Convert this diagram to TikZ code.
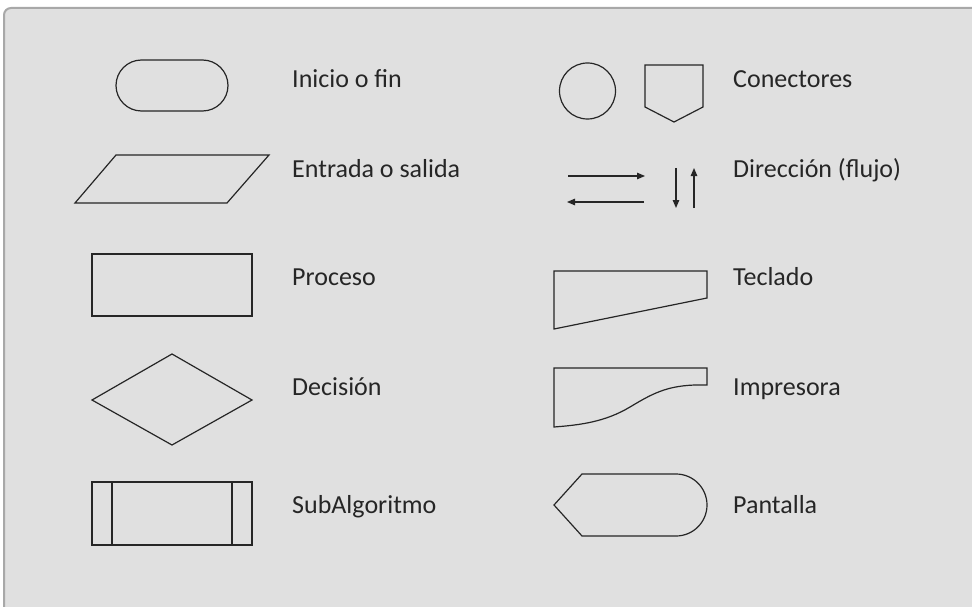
\documentclass[tikz,border=0pt]{standalone}
\usepackage{fontspec}
\setmainfont{Carlito}
\usetikzlibrary{arrows.meta}
\definecolor{panelgray}{HTML}{E0E0E0}
\definecolor{bordergray}{HTML}{A8A8A8}
\definecolor{ink}{HTML}{262626}
\begin{document}
\begin{tikzpicture}[x=1pt,y=-1pt,
  shapeline/.style={draw=ink,line width=1.2pt,line join=miter},
  label/.style={anchor=base west,inner sep=0pt,text=ink,font=\fontsize{26}{30}\selectfont},
  flowarrow/.style={draw=ink,line width=1.2pt,-{Triangle[length=8pt,width=6.5pt]}}]
\clip (0,0) rectangle (972,607);
\fill[white] (0,0) rectangle (972,607);
\draw[fill=panelgray,draw=bordergray,line width=2pt,rounded corners=7pt] (4,8) rectangle (990,625);
% left column shapes
\draw[shapeline,rounded corners=25.5pt] (116,60) rectangle (228,111);
\draw[shapeline] (116,155) -- (269,155) -- (227,203) -- (75,203) -- cycle;
\draw[shapeline] (92,254) rectangle (252,316);
\draw[shapeline] (92,400) -- (172,354) -- (252,400) -- (172,445) -- cycle;
\draw[shapeline] (92,482) rectangle (252,545);
\draw[shapeline] (112,482) -- (112,545);
\draw[shapeline] (232,482) -- (232,545);
% right column shapes
\draw[shapeline] (587.5,91) circle[radius=28pt];
\draw[shapeline] (645,65) -- (703,65) -- (703,107) -- (674,122) -- (645,107) -- cycle;
\coordinate (r1s) at (568,176); \coordinate (r1e) at (645,176);
\coordinate (l1s) at (644,202); \coordinate (l1e) at (567,202);
\coordinate (d1s) at (676,168); \coordinate (d1e) at (676,208);
\coordinate (u1s) at (694,208); \coordinate (u1e) at (694,168);
\draw[flowarrow] (r1s) -- (r1e);
\draw[flowarrow] (l1s) -- (l1e);
\draw[flowarrow] (d1s) -- (d1e);
\draw[flowarrow] (u1s) -- (u1e);
\draw[shapeline] (554,271) -- (707,271) -- (707,298) -- (554,329) -- cycle;
\draw[shapeline] (554,368) -- (707,368) -- (707,385)
  .. controls (670,384) and (655,392) .. (630,407)
  .. controls (605,422) and (580,425) .. (554,427) -- cycle;
\draw[shapeline] (582,474) -- (676,474)
  .. controls (693.1,474) and (707,487.9) .. (707,505)
  .. controls (707,522.1) and (693.1,536) .. (676,536)
  -- (582,536) -- (554,505) -- cycle;
% labels
\node[label] (t1) at (292,88) {Inicio o fin};
\node[label] (t2) at (292,178) {Entrada o salida};
\node[label] (t3) at (292,285) {Proceso};
\node[label] (t4) at (292,395) {Decisión};
\node[label] (t5) at (292,513) {SubAlgoritmo};
\node[label] (t6) at (733,88) {Conectores};
\node[label] (t7) at (733,178) {Dirección (flujo)};
\node[label] (t8) at (733,285) {Teclado};
\node[label] (t9) at (733,395) {Impresora};
\node[label] (t10) at (733,513) {Pantalla};
\end{tikzpicture}
\end{document}
